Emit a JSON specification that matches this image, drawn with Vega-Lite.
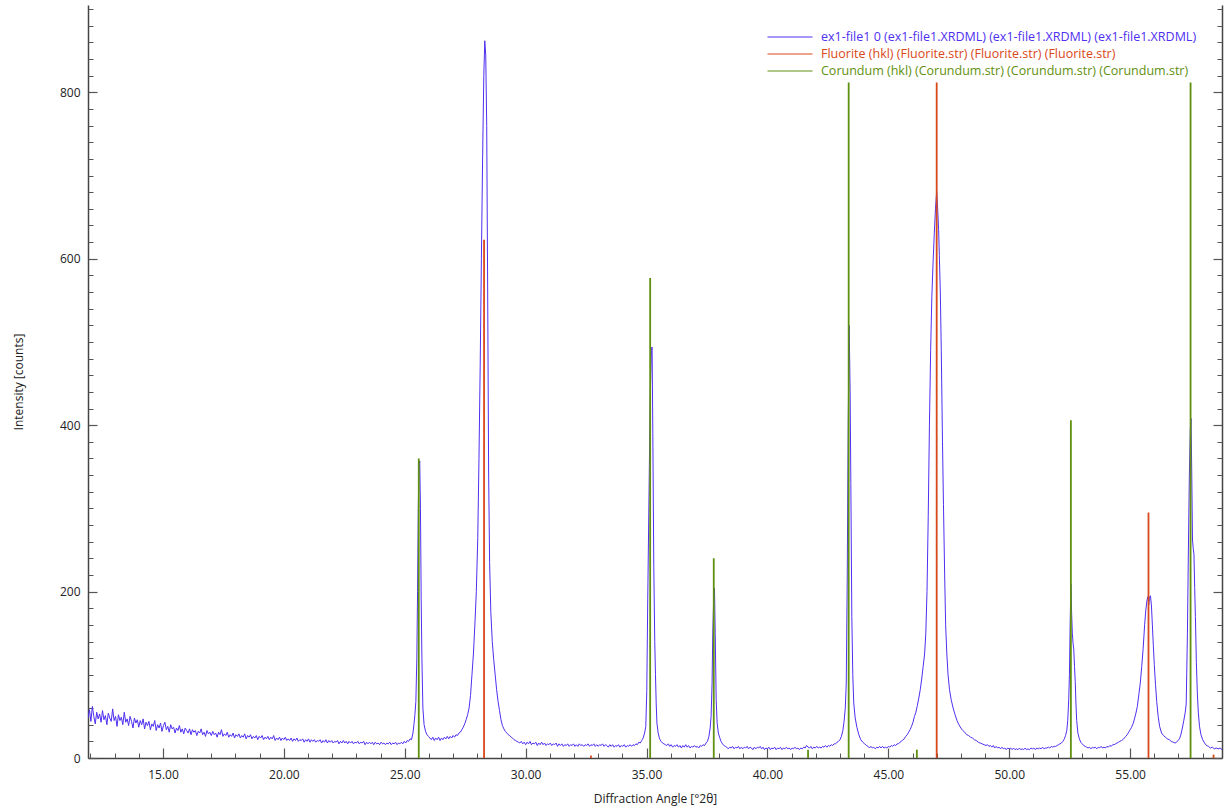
{
"$schema":"https://vega.github.io/schema/vega-lite/v6.json",
"width":1134,"height":753,
"autosize":{"type":"none"},
"padding":{"left":88,"top":5,"right":8,"bottom":50},
"background":"white",
"config":{"view":{"stroke":null},"font":"Open Sans",
"axis":{"labelFont":"Open Sans","titleFont":"Open Sans","labelFontSize":12,"titleFontSize":12,"titleFontWeight":"normal","labelColor":"#222222","titleColor":"#222222","domainColor":"#444444","tickColor":"#555555","grid":false,"labelFlush":false},
"legend":{"orient":"none","legendX":694,"legendY":24,"symbolType":"M-3,0H3","symbolSize":225,"symbolStrokeWidth":1,"labelFont":"Open Sans","labelFontSize":12.5,"labelOffset":23,"padding":0,"rowPadding":2,"labelLimit":600}},
"datasets":{
"scan":[
{"t":11.90,"c":48},{"t":11.96,"c":58},{"t":12.02,"c":44},{"t":12.08,"c":62},{"t":12.14,"c":50},{"t":12.20,"c":41},{"t":12.26,"c":55},{"t":12.32,"c":47},{"t":12.38,"c":53},{"t":12.44,"c":43},{"t":12.50,"c":57},{"t":12.56,"c":46},{"t":12.62,"c":51},{"t":12.68,"c":40},{"t":12.74,"c":54},{"t":12.80,"c":48},{"t":12.86,"c":44},{"t":12.92,"c":59},{"t":12.98,"c":45},{"t":13.04,"c":50},{"t":13.10,"c":38},{"t":13.16,"c":52},{"t":13.22,"c":45},{"t":13.28,"c":49},{"t":13.34,"c":40},{"t":13.40,"c":55},{"t":13.46,"c":43},{"t":13.52,"c":47},{"t":13.58,"c":39},{"t":13.64,"c":50},{"t":13.70,"c":44},{"t":13.76,"c":36},{"t":13.82,"c":48},{"t":13.88,"c":42},{"t":13.94,"c":46},{"t":14.00,"c":37},{"t":14.06,"c":45},{"t":14.12,"c":40},{"t":14.18,"c":47},{"t":14.24,"c":35},{"t":14.30,"c":43},{"t":14.36,"c":39},{"t":14.42,"c":44},{"t":14.48,"c":34},{"t":14.54,"c":41},{"t":14.60,"c":38},{"t":14.66,"c":45},{"t":14.72,"c":33},{"t":14.78,"c":40},{"t":14.84,"c":36},{"t":14.90,"c":42},{"t":14.96,"c":32},{"t":15.02,"c":39},{"t":15.08,"c":43},{"t":15.14,"c":34},{"t":15.20,"c":38},{"t":15.26,"c":31},{"t":15.32,"c":40},{"t":15.38,"c":35},{"t":15.44,"c":37},{"t":15.50,"c":30},{"t":15.56,"c":36},{"t":15.62,"c":33},{"t":15.68,"c":39},{"t":15.74,"c":31},{"t":15.80,"c":35},{"t":15.86,"c":29},{"t":15.92,"c":36},{"t":15.98,"c":33},{"t":16.04,"c":30},{"t":16.10,"c":35},{"t":16.16,"c":28},{"t":16.22,"c":34},{"t":16.28,"c":31},{"t":16.34,"c":33},{"t":16.40,"c":27},{"t":16.46,"c":32},{"t":16.52,"c":30},{"t":16.58,"c":35},{"t":16.64,"c":28},{"t":16.70,"c":31},{"t":16.76,"c":26},{"t":16.82,"c":33},{"t":16.88,"c":29},{"t":16.94,"c":31},{"t":17.00,"c":27},{"t":17.06,"c":32},{"t":17.12,"c":28},{"t":17.18,"c":30},{"t":17.24,"c":25},{"t":17.30,"c":31},{"t":17.36,"c":28},{"t":17.42,"c":34},{"t":17.48,"c":26},{"t":17.54,"c":29},{"t":17.60,"c":27},{"t":17.66,"c":31},{"t":17.72,"c":25},{"t":17.78,"c":28},{"t":17.84,"c":26},{"t":17.90,"c":30},{"t":17.96,"c":24},{"t":18.02,"c":28},{"t":18.08,"c":26},{"t":18.14,"c":29},{"t":18.20,"c":24},{"t":18.26,"c":27},{"t":18.32,"c":25},{"t":18.38,"c":29},{"t":18.44,"c":23},{"t":18.50,"c":27},{"t":18.56,"c":25},{"t":18.62,"c":28},{"t":18.68,"c":23},{"t":18.74,"c":26},{"t":18.80,"c":24},{"t":18.86,"c":27},{"t":18.92,"c":22},{"t":18.98,"c":26},{"t":19.04,"c":24},{"t":19.10,"c":27},{"t":19.16,"c":22},{"t":19.22,"c":25},{"t":19.28,"c":23},{"t":19.34,"c":26},{"t":19.40,"c":22},{"t":19.46,"c":25},{"t":19.52,"c":23},{"t":19.58,"c":27},{"t":19.64,"c":21},{"t":19.70,"c":24},{"t":19.76,"c":22},{"t":19.82,"c":25},{"t":19.88,"c":21},{"t":19.94,"c":24},{"t":20.00,"c":22},{"t":20.06,"c":25},{"t":20.12,"c":21},{"t":20.18,"c":23},{"t":20.24,"c":21},{"t":20.30,"c":24},{"t":20.36,"c":20},{"t":20.42,"c":23},{"t":20.48,"c":21},{"t":20.54,"c":24},{"t":20.60,"c":20},{"t":20.66,"c":22},{"t":20.72,"c":21},{"t":20.78,"c":23},{"t":20.84,"c":19},{"t":20.90,"c":22},{"t":20.96,"c":20},{"t":21.02,"c":23},{"t":21.08,"c":19},{"t":21.14,"c":22},{"t":21.20,"c":20},{"t":21.26,"c":22},{"t":21.32,"c":19},{"t":21.38,"c":21},{"t":21.44,"c":20},{"t":21.50,"c":22},{"t":21.56,"c":18},{"t":21.62,"c":21},{"t":21.68,"c":19},{"t":21.74,"c":22},{"t":21.80,"c":18},{"t":21.86,"c":21},{"t":21.92,"c":19},{"t":21.98,"c":21},{"t":22.04,"c":18},{"t":22.10,"c":20},{"t":22.16,"c":19},{"t":22.22,"c":21},{"t":22.28,"c":17},{"t":22.34,"c":20},{"t":22.40,"c":18},{"t":22.46,"c":21},{"t":22.52,"c":18},{"t":22.58,"c":20},{"t":22.64,"c":17},{"t":22.70,"c":20},{"t":22.76,"c":18},{"t":22.82,"c":20},{"t":22.88,"c":17},{"t":22.94,"c":19},{"t":23.00,"c":18},{"t":23.06,"c":20},{"t":23.12,"c":17},{"t":23.18,"c":19},{"t":23.24,"c":18},{"t":23.30,"c":20},{"t":23.36,"c":16},{"t":23.42,"c":19},{"t":23.48,"c":17},{"t":23.54,"c":19},{"t":23.60,"c":17},{"t":23.66,"c":19},{"t":23.72,"c":16},{"t":23.78,"c":19},{"t":23.84,"c":17},{"t":23.90,"c":18},{"t":23.96,"c":16},{"t":24.02,"c":19},{"t":24.08,"c":17},{"t":24.14,"c":18},{"t":24.20,"c":16},{"t":24.26,"c":18},{"t":24.32,"c":17},{"t":24.38,"c":19},{"t":24.44,"c":16},{"t":24.50,"c":18},{"t":24.56,"c":17},{"t":24.62,"c":19},{"t":24.68,"c":16},{"t":24.74,"c":18},{"t":24.80,"c":17},{"t":24.86,"c":19},{"t":24.92,"c":17},{"t":24.98,"c":20},{"t":25.04,"c":18},{"t":25.10,"c":21},{"t":25.16,"c":20},{"t":25.22,"c":23},{"t":25.28,"c":22},
{"t":25.34,"c":30},{"t":25.38,"c":40},{"t":25.42,"c":52},{"t":25.46,"c":68},{"t":25.50,"c":120},{"t":25.53,"c":200},{"t":25.56,"c":300},{"t":25.59,"c":350},{"t":25.62,"c":357},{"t":25.65,"c":300},{"t":25.68,"c":190},{"t":25.71,"c":120},{"t":25.75,"c":60},{"t":25.80,"c":40},{"t":25.86,"c":32},{"t":25.92,"c":28},{"t":25.98,"c":26},{"t":26.04,"c":24},
{"t":26.10,"c":22},{"t":26.16,"c":25},{"t":26.22,"c":21},{"t":26.28,"c":24},{"t":26.34,"c":22},{"t":26.40,"c":25},{"t":26.46,"c":21},{"t":26.52,"c":24},{"t":26.58,"c":22},{"t":26.64,"c":25},{"t":26.70,"c":23},{"t":26.76,"c":26},{"t":26.82,"c":23},{"t":26.88,"c":26},{"t":26.94,"c":24},{"t":27.00,"c":27},{"t":27.06,"c":25},{"t":27.12,"c":28},{"t":27.18,"c":27},{"t":27.24,"c":30},{"t":27.30,"c":31},{"t":27.36,"c":34},{"t":27.42,"c":37},{"t":27.48,"c":41},{"t":27.54,"c":46},{"t":27.60,"c":52},{"t":27.66,"c":60},{"t":27.72,"c":75},{"t":27.78,"c":100},{"t":27.84,"c":125},{"t":27.90,"c":160},{"t":27.96,"c":200},{"t":28.02,"c":265},{"t":28.07,"c":360},{"t":28.12,"c":470},{"t":28.17,"c":600},{"t":28.22,"c":720},{"t":28.27,"c":820},{"t":28.31,"c":862},{"t":28.35,"c":845},{"t":28.39,"c":760},{"t":28.43,"c":560},{"t":28.47,"c":340},{"t":28.51,"c":235},{"t":28.56,"c":175},{"t":28.62,"c":140},{"t":28.68,"c":118},{"t":28.74,"c":100},{"t":28.80,"c":82},{"t":28.86,"c":68},{"t":28.92,"c":57},{"t":28.98,"c":46},{"t":29.04,"c":39},{"t":29.10,"c":35},{"t":29.16,"c":32},{"t":29.22,"c":30},{"t":29.28,"c":28},{"t":29.34,"c":27},{"t":29.40,"c":25},{"t":29.46,"c":24},{"t":29.52,"c":22},{"t":29.58,"c":21},{"t":29.64,"c":20},{"t":29.70,"c":19},
{"t":29.76,"c":18},{"t":29.82,"c":20},{"t":29.88,"c":17},{"t":29.94,"c":19},{"t":30.00,"c":16},{"t":30.06,"c":19},{"t":30.12,"c":17},{"t":30.18,"c":20},{"t":30.24,"c":16},{"t":30.30,"c":18},{"t":30.36,"c":17},{"t":30.42,"c":19},{"t":30.48,"c":15},{"t":30.54,"c":18},{"t":30.60,"c":16},{"t":30.66,"c":19},{"t":30.72,"c":16},{"t":30.78,"c":18},{"t":30.84,"c":15},{"t":30.90,"c":17},{"t":30.96,"c":16},{"t":31.02,"c":18},{"t":31.08,"c":15},{"t":31.14,"c":17},{"t":31.20,"c":16},{"t":31.26,"c":18},{"t":31.32,"c":14},{"t":31.38,"c":17},{"t":31.44,"c":15},{"t":31.50,"c":17},{"t":31.56,"c":14},{"t":31.62,"c":16},{"t":31.68,"c":15},{"t":31.74,"c":17},{"t":31.80,"c":14},{"t":31.86,"c":16},{"t":31.92,"c":15},{"t":31.98,"c":17},{"t":32.04,"c":14},{"t":32.10,"c":16},{"t":32.16,"c":14},{"t":32.22,"c":17},{"t":32.28,"c":15},{"t":32.34,"c":16},{"t":32.40,"c":14},{"t":32.46,"c":16},{"t":32.52,"c":15},{"t":32.58,"c":17},{"t":32.64,"c":14},{"t":32.70,"c":16},{"t":32.76,"c":15},{"t":32.82,"c":17},{"t":32.88,"c":14},{"t":32.94,"c":16},{"t":33.00,"c":14},{"t":33.06,"c":16},{"t":33.12,"c":15},{"t":33.18,"c":17},{"t":33.24,"c":14},{"t":33.30,"c":16},{"t":33.36,"c":15},{"t":33.42,"c":13},{"t":33.48,"c":16},{"t":33.54,"c":14},{"t":33.60,"c":16},{"t":33.66,"c":13},{"t":33.72,"c":15},{"t":33.78,"c":14},{"t":33.84,"c":16},{"t":33.90,"c":13},{"t":33.96,"c":15},{"t":34.02,"c":14},{"t":34.08,"c":16},{"t":34.14,"c":13},{"t":34.20,"c":15},{"t":34.26,"c":14},{"t":34.32,"c":16},{"t":34.38,"c":14},{"t":34.44,"c":16},{"t":34.50,"c":15},{"t":34.56,"c":17},{"t":34.62,"c":16},{"t":34.68,"c":19},{"t":34.74,"c":18},{"t":34.80,"c":21},
{"t":34.86,"c":24},{"t":34.92,"c":30},{"t":34.97,"c":38},{"t":35.01,"c":80},{"t":35.05,"c":190},{"t":35.10,"c":310},{"t":35.15,"c":430},{"t":35.20,"c":490},{"t":35.23,"c":494},{"t":35.26,"c":390},{"t":35.30,"c":230},{"t":35.34,"c":140},{"t":35.37,"c":100},{"t":35.40,"c":65},{"t":35.43,"c":42},{"t":35.48,"c":30},{"t":35.54,"c":23},{"t":35.60,"c":20},{"t":35.66,"c":18},{"t":35.72,"c":17},{"t":35.78,"c":16},
{"t":35.84,"c":15},{"t":35.90,"c":17},{"t":35.96,"c":14},{"t":36.02,"c":16},{"t":36.08,"c":13},{"t":36.14,"c":15},{"t":36.20,"c":14},{"t":36.26,"c":16},{"t":36.32,"c":13},{"t":36.38,"c":15},{"t":36.44,"c":12},{"t":36.50,"c":15},{"t":36.56,"c":13},{"t":36.62,"c":16},{"t":36.68,"c":13},{"t":36.74,"c":15},{"t":36.80,"c":12},{"t":36.86,"c":14},{"t":36.92,"c":13},{"t":36.98,"c":15},{"t":37.04,"c":13},{"t":37.10,"c":14},{"t":37.16,"c":12},{"t":37.22,"c":15},{"t":37.28,"c":14},{"t":37.34,"c":16},{"t":37.40,"c":15},{"t":37.46,"c":18},
{"t":37.52,"c":20},{"t":37.58,"c":26},{"t":37.63,"c":36},{"t":37.67,"c":50},{"t":37.71,"c":90},{"t":37.74,"c":150},{"t":37.78,"c":195},{"t":37.81,"c":204},{"t":37.84,"c":150},{"t":37.88,"c":70},{"t":37.92,"c":42},{"t":37.97,"c":30},{"t":38.02,"c":25},{"t":38.08,"c":20},{"t":38.14,"c":17},{"t":38.20,"c":15},{"t":38.26,"c":14},
{"t":38.32,"c":13},{"t":38.38,"c":11},{"t":38.44,"c":13},{"t":38.50,"c":12},{"t":38.56,"c":14},{"t":38.62,"c":11},{"t":38.68,"c":13},{"t":38.74,"c":12},{"t":38.80,"c":14},{"t":38.86,"c":11},{"t":38.92,"c":13},{"t":38.98,"c":11},{"t":39.04,"c":13},{"t":39.10,"c":12},{"t":39.16,"c":14},{"t":39.22,"c":11},{"t":39.28,"c":13},{"t":39.34,"c":12},{"t":39.40,"c":10},{"t":39.46,"c":13},{"t":39.52,"c":11},{"t":39.58,"c":13},{"t":39.64,"c":12},{"t":39.70,"c":14},{"t":39.76,"c":11},{"t":39.82,"c":13},{"t":39.88,"c":10},{"t":39.94,"c":12},{"t":40.00,"c":11},{"t":40.06,"c":13},{"t":40.12,"c":10},{"t":40.18,"c":12},{"t":40.24,"c":11},{"t":40.30,"c":13},{"t":40.36,"c":10},{"t":40.42,"c":12},{"t":40.48,"c":11},{"t":40.54,"c":13},{"t":40.60,"c":10},{"t":40.66,"c":12},{"t":40.72,"c":11},{"t":40.78,"c":13},{"t":40.84,"c":11},{"t":40.90,"c":12},{"t":40.96,"c":10},{"t":41.02,"c":12},{"t":41.08,"c":11},{"t":41.14,"c":13},{"t":41.20,"c":11},{"t":41.26,"c":12},{"t":41.32,"c":10},{"t":41.38,"c":12},{"t":41.44,"c":11},{"t":41.50,"c":13},{"t":41.56,"c":12},{"t":41.62,"c":15},{"t":41.68,"c":13},{"t":41.74,"c":12},{"t":41.80,"c":14},{"t":41.86,"c":11},{"t":41.92,"c":13},{"t":41.98,"c":12},{"t":42.04,"c":14},{"t":42.10,"c":12},{"t":42.16,"c":13},{"t":42.22,"c":12},{"t":42.28,"c":14},{"t":42.34,"c":13},{"t":42.40,"c":15},{"t":42.46,"c":13},{"t":42.52,"c":15},{"t":42.58,"c":14},{"t":42.64,"c":16},{"t":42.70,"c":15},{"t":42.76,"c":17},{"t":42.82,"c":17},{"t":42.88,"c":19},
{"t":42.94,"c":20},{"t":43.00,"c":22},{"t":43.06,"c":26},{"t":43.12,"c":33},{"t":43.17,"c":44},{"t":43.22,"c":60},{"t":43.26,"c":90},{"t":43.30,"c":215},{"t":43.34,"c":400},{"t":43.38,"c":520},{"t":43.42,"c":440},{"t":43.45,"c":330},{"t":43.49,"c":170},{"t":43.53,"c":100},{"t":43.57,"c":66},{"t":43.63,"c":48},{"t":43.70,"c":37},{"t":43.78,"c":28},{"t":43.86,"c":22},{"t":43.94,"c":19},{"t":44.02,"c":17},{"t":44.10,"c":15},
{"t":44.16,"c":14},{"t":44.22,"c":12},{"t":44.28,"c":14},{"t":44.34,"c":12},{"t":44.40,"c":13},{"t":44.46,"c":11},{"t":44.52,"c":13},{"t":44.58,"c":12},{"t":44.64,"c":14},{"t":44.70,"c":12},{"t":44.76,"c":14},{"t":44.82,"c":12},{"t":44.88,"c":13},{"t":44.94,"c":12},{"t":45.00,"c":14},{"t":45.06,"c":13},{"t":45.12,"c":15},{"t":45.18,"c":14},{"t":45.24,"c":16},{"t":45.30,"c":15},{"t":45.36,"c":17},{"t":45.42,"c":17},{"t":45.48,"c":19},{"t":45.54,"c":20},{"t":45.60,"c":22},{"t":45.66,"c":23},{"t":45.72,"c":26},{"t":45.78,"c":28},{"t":45.84,"c":31},{"t":45.90,"c":34},{"t":45.96,"c":38},{"t":46.02,"c":43},{"t":46.08,"c":50},{"t":46.14,"c":55},{"t":46.20,"c":63},{"t":46.26,"c":72},{"t":46.32,"c":82},{"t":46.38,"c":95},{"t":46.44,"c":110},{"t":46.50,"c":125},{"t":46.55,"c":150},{"t":46.60,"c":200},{"t":46.65,"c":290},{"t":46.70,"c":400},{"t":46.75,"c":490},{"t":46.80,"c":555},{"t":46.85,"c":595},{"t":46.90,"c":630},{"t":46.95,"c":660},{"t":47.00,"c":681},{"t":47.04,"c":660},{"t":47.08,"c":635},{"t":47.11,"c":604},{"t":47.15,"c":560},{"t":47.19,"c":490},{"t":47.24,"c":380},{"t":47.28,"c":305},{"t":47.33,"c":220},{"t":47.37,"c":160},{"t":47.42,"c":125},{"t":47.47,"c":100},{"t":47.53,"c":82},{"t":47.60,"c":70},{"t":47.68,"c":60},{"t":47.76,"c":52},{"t":47.84,"c":45},{"t":47.92,"c":40},{"t":48.00,"c":36},{"t":48.08,"c":33},{"t":48.16,"c":31},{"t":48.24,"c":28},{"t":48.32,"c":27},{"t":48.40,"c":25},{"t":48.48,"c":24},{"t":48.56,"c":22},{"t":48.64,"c":21},{"t":48.72,"c":19},{"t":48.80,"c":18},{"t":48.88,"c":17},{"t":48.96,"c":16},{"t":49.04,"c":15},
{"t":49.10,"c":16},{"t":49.16,"c":14},{"t":49.22,"c":15},{"t":49.28,"c":13},{"t":49.34,"c":15},{"t":49.40,"c":12},{"t":49.46,"c":14},{"t":49.52,"c":12},{"t":49.58,"c":13},{"t":49.64,"c":11},{"t":49.70,"c":13},{"t":49.76,"c":11},{"t":49.82,"c":12},{"t":49.88,"c":10},{"t":49.94,"c":12},{"t":50.00,"c":11},{"t":50.06,"c":12},{"t":50.12,"c":10},{"t":50.18,"c":12},{"t":50.24,"c":10},{"t":50.30,"c":11},{"t":50.36,"c":10},{"t":50.42,"c":12},{"t":50.48,"c":10},{"t":50.54,"c":11},{"t":50.60,"c":10},{"t":50.66,"c":12},{"t":50.72,"c":10},{"t":50.78,"c":11},{"t":50.84,"c":10},{"t":50.90,"c":12},{"t":50.96,"c":11},{"t":51.02,"c":12},{"t":51.08,"c":10},{"t":51.14,"c":12},{"t":51.20,"c":11},{"t":51.26,"c":12},{"t":51.32,"c":11},{"t":51.38,"c":13},{"t":51.44,"c":11},{"t":51.50,"c":12},{"t":51.56,"c":12},{"t":51.62,"c":13},{"t":51.68,"c":12},{"t":51.74,"c":14},{"t":51.80,"c":13},{"t":51.86,"c":14},{"t":51.92,"c":14},{"t":51.98,"c":15},{"t":52.04,"c":16},{"t":52.10,"c":17},{"t":52.16,"c":18},{"t":52.22,"c":20},{"t":52.28,"c":23},{"t":52.33,"c":27},{"t":52.38,"c":33},{"t":52.42,"c":45},{"t":52.46,"c":70},{"t":52.49,"c":100},{"t":52.52,"c":160},{"t":52.55,"c":209},{"t":52.58,"c":175},{"t":52.61,"c":150},{"t":52.64,"c":138},{"t":52.67,"c":130},{"t":52.70,"c":110},{"t":52.73,"c":92},{"t":52.76,"c":65},{"t":52.79,"c":45},{"t":52.84,"c":30},{"t":52.90,"c":23},{"t":52.96,"c":19},{"t":53.02,"c":17},{"t":53.08,"c":15},{"t":53.14,"c":14},{"t":53.20,"c":13},
{"t":53.26,"c":12},{"t":53.32,"c":13},{"t":53.38,"c":11},{"t":53.44,"c":13},{"t":53.50,"c":12},{"t":53.56,"c":13},{"t":53.62,"c":11},{"t":53.68,"c":13},{"t":53.74,"c":12},{"t":53.80,"c":14},{"t":53.86,"c":12},{"t":53.92,"c":13},{"t":53.98,"c":12},{"t":54.04,"c":14},{"t":54.10,"c":13},{"t":54.16,"c":15},{"t":54.22,"c":14},{"t":54.28,"c":16},{"t":54.34,"c":16},{"t":54.40,"c":17},{"t":54.46,"c":18},{"t":54.52,"c":19},{"t":54.58,"c":20},{"t":54.64,"c":21},{"t":54.70,"c":22},{"t":54.76,"c":24},{"t":54.82,"c":26},{"t":54.88,"c":28},{"t":54.94,"c":31},{"t":55.00,"c":34},{"t":55.06,"c":37},{"t":55.12,"c":41},{"t":55.18,"c":47},{"t":55.24,"c":54},{"t":55.30,"c":62},{"t":55.36,"c":76},{"t":55.42,"c":90},{"t":55.48,"c":110},{"t":55.54,"c":132},{"t":55.60,"c":160},{"t":55.65,"c":178},{"t":55.70,"c":190},{"t":55.74,"c":194},{"t":55.77,"c":184},{"t":55.80,"c":192},{"t":55.84,"c":195},{"t":55.88,"c":184},{"t":55.92,"c":160},{"t":55.96,"c":135},{"t":56.00,"c":112},{"t":56.05,"c":88},{"t":56.10,"c":68},{"t":56.16,"c":50},{"t":56.22,"c":38},{"t":56.30,"c":30},{"t":56.38,"c":27},{"t":56.46,"c":25},{"t":56.54,"c":23},{"t":56.62,"c":22},{"t":56.70,"c":20},{"t":56.78,"c":19},{"t":56.86,"c":18},{"t":56.92,"c":19},{"t":56.98,"c":21},{"t":57.04,"c":23},{"t":57.10,"c":28},{"t":57.16,"c":36},{"t":57.22,"c":45},{"t":57.28,"c":55},{"t":57.32,"c":65},{"t":57.37,"c":150},{"t":57.41,"c":250},{"t":57.45,"c":340},{"t":57.49,"c":395},{"t":57.52,"c":408},{"t":57.55,"c":340},{"t":57.58,"c":262},{"t":57.61,"c":252},{"t":57.64,"c":245},{"t":57.67,"c":205},{"t":57.70,"c":170},{"t":57.74,"c":115},{"t":57.78,"c":78},{"t":57.82,"c":55},{"t":57.87,"c":38},{"t":57.93,"c":28},{"t":58.00,"c":22},{"t":58.08,"c":18},{"t":58.16,"c":15},{"t":58.24,"c":14},{"t":58.32,"c":12},{"t":58.40,"c":13},{"t":58.48,"c":11},{"t":58.56,"c":12},{"t":58.64,"c":11},{"t":58.72,"c":12},{"t":58.80,"c":10}
],
"sticks":[
{"t":28.28,"c":623,"s":"Fluorite (hkl) (Fluorite.str) (Fluorite.str) (Fluorite.str)"},
{"t":32.70,"c":3,"s":"Fluorite (hkl) (Fluorite.str) (Fluorite.str) (Fluorite.str)"},
{"t":47.00,"c":812,"s":"Fluorite (hkl) (Fluorite.str) (Fluorite.str) (Fluorite.str)"},
{"t":55.76,"c":295,"s":"Fluorite (hkl) (Fluorite.str) (Fluorite.str) (Fluorite.str)"},
{"t":58.45,"c":4,"s":"Fluorite (hkl) (Fluorite.str) (Fluorite.str) (Fluorite.str)"},
{"t":25.58,"c":360,"s":"Corundum (hkl) (Corundum.str) (Corundum.str) (Corundum.str)"},
{"t":35.15,"c":577,"s":"Corundum (hkl) (Corundum.str) (Corundum.str) (Corundum.str)"},
{"t":37.78,"c":240,"s":"Corundum (hkl) (Corundum.str) (Corundum.str) (Corundum.str)"},
{"t":41.68,"c":10,"s":"Corundum (hkl) (Corundum.str) (Corundum.str) (Corundum.str)"},
{"t":43.36,"c":812,"s":"Corundum (hkl) (Corundum.str) (Corundum.str) (Corundum.str)"},
{"t":46.18,"c":10,"s":"Corundum (hkl) (Corundum.str) (Corundum.str) (Corundum.str)"},
{"t":52.55,"c":406,"s":"Corundum (hkl) (Corundum.str) (Corundum.str) (Corundum.str)"},
{"t":57.50,"c":812,"s":"Corundum (hkl) (Corundum.str) (Corundum.str) (Corundum.str)"}
]},
"layer":[
{"data":{"name":"scan"},
 "mark":{"type":"line","strokeWidth":1,"interpolate":"linear","clip":true},
 "encoding":{
  "x":{"field":"t","type":"quantitative","scale":{"domain":[11.9,58.8],"nice":false,"zero":false},
       "axis":{"orient":"bottom","values":[15,20,25,30,35,40,45,50,55],"format":".2f","tickSize":-10,"tickWidth":1.2,"labelPadding":21,"title":"Diffraction Angle [°2θ]","titlePadding":13,"domainWidth":1.5}},
  "y":{"field":"c","type":"quantitative","scale":{"domain":[0,905],"nice":false},
       "axis":{"orient":"left","values":[0,200,400,600,800],"tickSize":-9,"tickWidth":1.2,"labelPadding":17,"title":"Intensity [counts]","titlePadding":34,"domainWidth":1.5}},
  "color":{"datum":"ex1-file1 0 (ex1-file1.XRDML) (ex1-file1.XRDML) (ex1-file1.XRDML)","type":"nominal",
       "scale":{"domain":["ex1-file1 0 (ex1-file1.XRDML) (ex1-file1.XRDML) (ex1-file1.XRDML)","Fluorite (hkl) (Fluorite.str) (Fluorite.str) (Fluorite.str)","Corundum (hkl) (Corundum.str) (Corundum.str) (Corundum.str)"],"range":["#4f2ff0","#d9481a","#5f9010"]},
       "legend":{"title":null,"encode":{"labels":{"update":{"fill":{"scale":"color","field":"value"}}}}}}
 }},
{"data":{"name":"sticks"},
 "mark":{"type":"rule","strokeWidth":1.8,"clip":true},
 "encoding":{
  "x":{"field":"t","type":"quantitative","axis":{"orient":"bottom","values":[12,13,14,15,16,17,18,19,20,21,22,23,24,25,26,27,28,29,30,31,32,33,34,35,36,37,38,39,40,41,42,43,44,45,46,47,48,49,50,51,52,53,54,55,56,57,58],"labels":false,"domain":false,"tickSize":-5,"title":null}},
  "y":{"field":"c","type":"quantitative","axis":{"orient":"left","values":[20,40,60,80,100,120,140,160,180,220,240,260,280,300,320,340,360,380,420,440,460,480,500,520,540,560,580,620,640,660,680,700,720,740,760,780,820,840,860,880,900],"labels":false,"domain":false,"tickSize":-5,"title":null}},
  "y2":{"datum":0},
  "color":{"field":"s","type":"nominal","legend":{"title":null,"encode":{"labels":{"update":{"fill":{"scale":"color","field":"value"}}}}}}
 }},
{"data":{"name":"sticks"},
 "mark":{"type":"point","opacity":0},
 "encoding":{
  "x":{"field":"t","type":"quantitative","axis":null},
  "y":{"field":"c","type":"quantitative","axis":{"orient":"right","values":[0,200,400,600,800],"labels":false,"tickSize":-9,"tickWidth":1.2,"title":null,"domainWidth":1.5}}
 }},
{"data":{"name":"sticks"},
 "mark":{"type":"point","opacity":0},
 "encoding":{
  "x":{"field":"t","type":"quantitative","axis":null},
  "y":{"field":"c","type":"quantitative","axis":{"orient":"right","values":[20,40,60,80,100,120,140,160,180,220,240,260,280,300,320,340,360,380,420,440,460,480,500,520,540,560,580,620,640,660,680,700,720,740,760,780,820,840,860,880,900],"labels":false,"domain":false,"tickSize":-5,"title":null}}
 }}
],
"resolve":{"axis":{"x":"independent","y":"independent"}}
}
